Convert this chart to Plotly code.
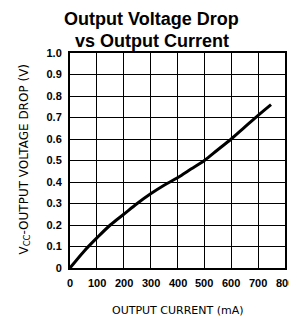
import plotly.graph_objects as go

current_ma = [0, 50, 100, 150, 200, 250, 300, 350, 400, 450, 500, 550, 600, 650, 700, 748]
voltage_drop = [0.0, 0.075, 0.14, 0.20, 0.25, 0.30, 0.345, 0.385, 0.42, 0.46, 0.50, 0.55, 0.60, 0.655, 0.71, 0.76]

x_ticks = [0, 100, 200, 300, 400, 500, 600, 700, 800]
x_tick_labels = ["0", "100", "200", "300", "400", "500", "600", "700", "800"]
y_ticks = [0, 0.1, 0.2, 0.3, 0.4, 0.5, 0.6, 0.7, 0.8, 0.9, 1.0]
y_tick_labels = ["0", "0.1", "0.2", "0.3", "0.4", "0.5", "0.6", "0.7", "0.8", "0.9", "1.0"]

title_lines = ["Output Voltage Drop", "vs Output Current"]

fig = go.Figure()
fig.add_trace(go.Scatter(x=current_ma, y=voltage_drop, mode="lines",
                         line=dict(color="black", width=3, shape="spline"),
                         showlegend=False, hoverinfo="skip"))

tick_font = dict(family="Liberation Sans, Arial", size=11, color="black")
label_font = dict(family="DejaVu Sans", size=11, color="black")

for i, line in enumerate(title_lines):
    fig.add_annotation(text="<b>%s</b>" % line, xref="paper", yref="paper",
                       x=0.38, y=1.0, yshift=34 - 22 * i, xanchor="center", yanchor="middle",
                       showarrow=False,
                       font=dict(family="Liberation Sans, Arial", size=18, color="black"))

# x tick labels placed on the x axis scale
for v, t in zip(x_ticks, x_tick_labels):
    fig.add_annotation(text="<b>%s</b>" % t, xref="x", yref="paper", x=v, y=0,
                       xanchor="center", yanchor="top", yshift=-7, showarrow=False,
                       font=tick_font)

fig.add_annotation(text="OUTPUT CURRENT (mA)", xref="paper", yref="paper", x=0.5, y=0,
                   xanchor="center", yanchor="middle", yshift=-42, showarrow=False,
                   font=label_font)

fig.add_annotation(text="V<sub>CC</sub>-OUTPUT VOLTAGE DROP (V)", xref="paper", yref="paper",
                   x=0, y=0.5, xanchor="center", yanchor="middle", xshift=-46, yshift=1,
                   textangle=-90, showarrow=False,
                   font=dict(family="DejaVu Sans", size=12, color="black"))

fig.update_layout(
    width=289, height=310,
    margin=dict(l=62, r=12, t=45, b=50),
    paper_bgcolor="white", plot_bgcolor="white",
    xaxis=dict(range=[0, 800], tickmode="array", tickvals=x_ticks, showticklabels=False,
               showgrid=True, gridcolor="black", gridwidth=1,
               showline=True, linecolor="black", linewidth=2, mirror=True,
               ticks="", zeroline=False, automargin=False),
    yaxis=dict(range=[0, 1.0], tickvals=y_ticks, ticktext=["<b>%s</b>" % t for t in y_tick_labels],
               showgrid=True, gridcolor="black", gridwidth=1,
               showline=True, linecolor="black", linewidth=2, mirror=True,
               ticks="outside", ticklen=4, tickcolor="white", zeroline=False,
               automargin=False,
               tickfont=tick_font),
)

fig.write_html("out.html")
